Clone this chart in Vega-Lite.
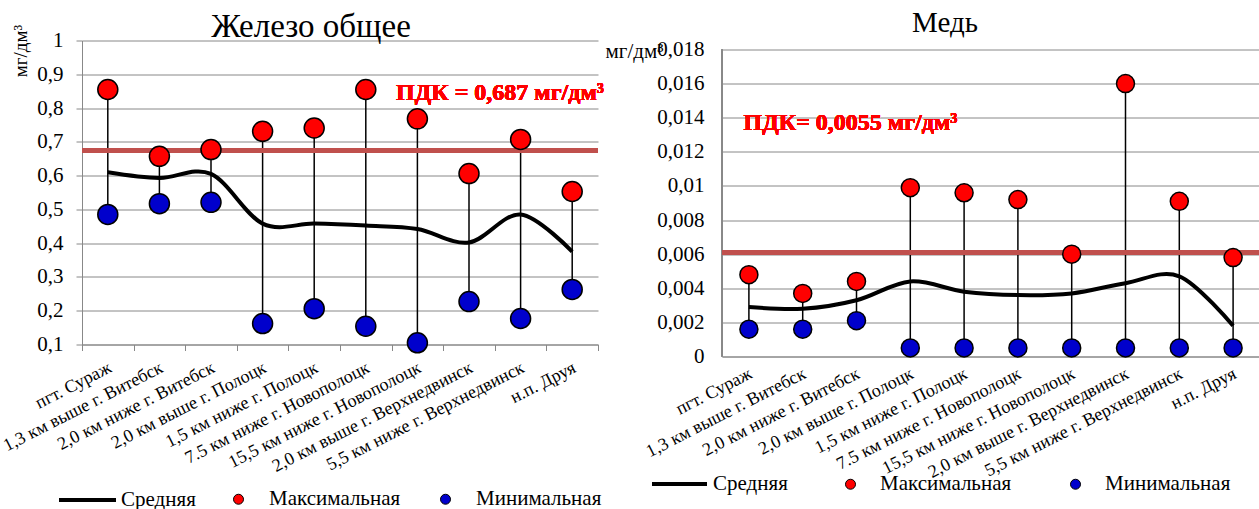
{
  "$schema": "https://vega.github.io/schema/vega-lite/v6.json",
  "background": "white",
  "padding": {"left": 0, "top": 8.5, "right": 0, "bottom": 0},
  "config": {
    "font": "Liberation Serif",
    "locale": {"number": {"decimal": ",", "thousands": " ", "grouping": [3], "currency": ["", ""]}},
    "view": {"stroke": null},
    "axis": {"labelFont": "Liberation Serif", "titleFont": "Liberation Serif", "labelColor": "black", "titleColor": "black", "domainColor": "#888888", "gridColor": "#888888", "tickColor": "#888888", "titleFontWeight": "normal", "labelOverlap": false},
    "legend": {"labelFont": "Liberation Serif", "labelColor": "black", "padding": 0}
  },
  "spacing": 1,
  "datasets": {
    "fe": [
      {"site": "пгт. Сураж", "mean": 0.61, "max": 0.855, "min": 0.485},
      {"site": "1,3 км выше г. Витебск", "mean": 0.593, "max": 0.657, "min": 0.517},
      {"site": "2,0 км ниже г. Витебск", "mean": 0.605, "max": 0.677, "min": 0.521},
      {"site": "2,0 км выше г. Полоцк", "mean": 0.458, "max": 0.731, "min": 0.162},
      {"site": "1,5 км ниже г. Полоцк", "mean": 0.458, "max": 0.741, "min": 0.206},
      {"site": "7.5 км ниже г. Новополоцк", "mean": 0.452, "max": 0.855, "min": 0.154},
      {"site": "15,5 км ниже г. Новополоцк", "mean": 0.442, "max": 0.768, "min": 0.105},
      {"site": "2,0 км выше г. Верхнедвинск", "mean": 0.402, "max": 0.606, "min": 0.227},
      {"site": "5,5 км ниже г. Верхнедвинск", "mean": 0.485, "max": 0.707, "min": 0.177},
      {"site": "н.п. Друя", "mean": 0.375, "max": 0.553, "min": 0.263}
    ],
    "cu": [
      {"site": "пгт. Сураж", "mean": 0.0029, "max": 0.0048, "min": 0.0016},
      {"site": "1,3 км выше г. Витебск", "mean": 0.0028, "max": 0.0037, "min": 0.0016},
      {"site": "2,0 км ниже г. Витебск", "mean": 0.0033, "max": 0.0044, "min": 0.0021},
      {"site": "2,0 км выше г. Полоцк", "mean": 0.0044, "max": 0.0099, "min": 0.0005},
      {"site": "1,5 км ниже г. Полоцк", "mean": 0.0038, "max": 0.0096, "min": 0.0005},
      {"site": "7.5 км ниже г. Новополоцк", "mean": 0.0036, "max": 0.0092, "min": 0.0005},
      {"site": "15,5 км ниже г. Новополоцк", "mean": 0.0037, "max": 0.006, "min": 0.0005},
      {"site": "2,0 км выше г. Верхнедвинск", "mean": 0.0043, "max": 0.016, "min": 0.0005},
      {"site": "5,5 км ниже г. Верхнедвинск", "mean": 0.0047, "max": 0.0091, "min": 0.0005},
      {"site": "н.п. Друя", "mean": 0.0018, "max": 0.0058, "min": 0.0005}
    ]
  },
  "hconcat": [
    {
      "width": 516,
      "height": 304,
      "title": {"text": "Железо общее", "fontSize": 33, "fontWeight": "normal", "font": "Liberation Serif", "color": "black", "dx": -29, "offset": -20, "frame": "group"},
      "data": {"name": "fe"},
      "layer": [
        {
          "mark": {"type": "rule", "color": "black", "strokeWidth": 1.5},
          "encoding": {
            "x": {"field": "site", "type": "nominal", "sort": null, "scale": {"paddingInner": 0, "paddingOuter": 0},
              "axis": {"title": null, "labelFont": "Liberation Serif", "labelAngle": -27, "labelAlign": "right", "labelBaseline": "middle", "labelPadding": 16, "labelOffset": 2, "labelFontSize": 18, "labelLimit": 400, "labelOverlap": false, "tickBand": "extent", "tickSize": 6, "grid": false}},
            "y": {"field": "min", "type": "quantitative", "scale": {"domain": [0.1, 1], "nice": false, "zero": false},
              "axis": {"values": [0.1, 0.2, 0.3, 0.4, 0.5, 0.6, 0.7, 0.8, 0.9, 1], "tickCount": 12, "format": "~g", "labelFont": "Liberation Serif", "labelFontSize": 21, "labelOverlap": false, "labelPadding": 13, "tickSize": 6, "grid": true,
                "title": "мг/дм³", "titleFont": "Liberation Serif", "titleFontSize": 19, "titleAngle": -90, "titleX": -62, "titleY": 10, "titleAlign": "center", "titleBaseline": "middle"}},
            "y2": {"field": "max"}
          }
        },
        {
          "mark": {"type": "rule", "color": "#C0504D", "strokeWidth": 5},
          "encoding": {"y": {"datum": 0.674, "type": "quantitative"}}
        },
        {
          "mark": {"type": "line", "interpolate": "cardinal", "strokeWidth": 4},
          "encoding": {
            "x": {"field": "site", "type": "nominal", "sort": null},
            "y": {"field": "mean", "type": "quantitative"},
            "stroke": {"datum": "Средняя", "type": "nominal", "scale": {"domain": ["Средняя"], "range": ["black"]},
              "legend": {"orient": "none", "legendX": -25, "legendY": 429, "title": null, "symbolType": "stroke", "symbolSize": 3249, "symbolStrokeWidth": 4, "labelFont": "Liberation Serif", "labelFontSize": 21, "labelOffset": 3}}
          }
        },
        {
          "mark": {"type": "point", "filled": true, "shape": "circle", "size": 400, "stroke": "black", "strokeWidth": 1.5, "opacity": 1},
          "encoding": {
            "x": {"field": "site", "type": "nominal", "sort": null},
            "y": {"field": "max", "type": "quantitative"},
            "fill": {"datum": "Максимальная", "type": "nominal", "scale": {"domain": ["Максимальная", "Минимальная"], "range": ["#FF0000", "#0000CC"]},
              "legend": {"orient": "none", "direction": "horizontal", "legendX": 146, "legendY": 448, "title": null, "symbolType": "circle", "symbolSize": 100, "symbolStrokeColor": "black", "symbolStrokeWidth": 1, "labelFont": "Liberation Serif", "labelFontSize": 21, "labelOffset": 20, "columnPadding": 34}}
          }
        },
        {
          "mark": {"type": "point", "filled": true, "shape": "circle", "size": 400, "stroke": "black", "strokeWidth": 1.5, "opacity": 1},
          "encoding": {
            "x": {"field": "site", "type": "nominal", "sort": null},
            "y": {"field": "min", "type": "quantitative"},
            "fill": {"datum": "Минимальная", "type": "nominal"}
          }
        },
        {
          "mark": {"type": "text", "text": "ПДК = 0,687 мг/дм³", "color": "#FF0000", "fontWeight": "bold", "fontSize": 24, "font": "Liberation Serif", "align": "center", "baseline": "alphabetic", "dx": 31},
          "encoding": {
            "x": {"datum": "2,0 км выше г. Верхнедвинск", "type": "nominal"},
            "y": {"datum": 0.825, "type": "quantitative"}
          }
        }
      ]
    },
    {
      "width": 538,
      "height": 316,
      "title": {"text": "Медь", "fontSize": 29, "fontWeight": "normal", "font": "Liberation Serif", "color": "black", "dx": -46, "offset": 1, "frame": "group"},
      "data": {"name": "cu"},
      "layer": [
        {
          "mark": {"type": "rule", "color": "black", "strokeWidth": 1.5},
          "encoding": {
            "x": {"field": "site", "type": "nominal", "sort": null, "scale": {"paddingInner": 0, "paddingOuter": 0},
              "axis": {"title": null, "labelFont": "Liberation Serif", "labelAngle": -27, "labelAlign": "right", "labelBaseline": "middle", "labelPadding": 16, "labelOffset": 2, "labelFontSize": 18, "labelLimit": 400, "labelOverlap": false, "ticks": false, "grid": false}},
            "y": {"field": "min", "type": "quantitative", "scale": {"domain": [0, 0.018528], "nice": false},
              "axis": {"values": [0, 0.002, 0.004, 0.006, 0.008, 0.01, 0.012, 0.014, 0.016, 0.018], "tickCount": 12, "format": "~g", "labelFont": "Liberation Serif", "labelFontSize": 21, "labelOverlap": false, "labelPadding": 18, "ticks": false, "grid": true, "domain": false,
                "title": "мг/дм³", "titleFont": "Liberation Serif", "titleFontSize": 21, "titleAngle": 0, "titleX": -117, "titleY": 17, "titleAlign": "left", "titleBaseline": "alphabetic"}},
            "y2": {"field": "max"}
          }
        },
        {
          "mark": {"type": "rule", "color": "#888888", "strokeWidth": 1},
          "encoding": {
            "x": {"datum": "пгт. Сураж", "type": "nominal", "bandPosition": 0},
            "y": {"datum": 0, "type": "quantitative"},
            "y2": {"datum": 0.018}
          }
        },
        {
          "mark": {"type": "rule", "color": "#C0504D", "strokeWidth": 5},
          "encoding": {"y": {"datum": 0.0061, "type": "quantitative"}}
        },
        {
          "mark": {"type": "line", "interpolate": "cardinal", "strokeWidth": 4},
          "encoding": {
            "x": {"field": "site", "type": "nominal", "sort": null},
            "y": {"field": "mean", "type": "quantitative"},
            "stroke": {"datum": "Средняя", "type": "nominal", "scale": {"domain": ["Средняя"], "range": ["black"]},
              "legend": {"orient": "none", "legendX": -72, "legendY": 414, "title": null, "symbolType": "stroke", "symbolSize": 3025, "symbolStrokeWidth": 4, "labelFont": "Liberation Serif", "labelFontSize": 21, "labelOffset": 4}}
          }
        },
        {
          "mark": {"type": "point", "filled": true, "shape": "circle", "size": 324, "stroke": "black", "strokeWidth": 1.5, "opacity": 1},
          "encoding": {
            "x": {"field": "site", "type": "nominal", "sort": null},
            "y": {"field": "max", "type": "quantitative"},
            "fill": {"datum": "Максимальная", "type": "nominal", "scale": {"domain": ["Максимальная", "Минимальная"], "range": ["#FF0000", "#0000CC"]},
              "legend": {"orient": "none", "direction": "horizontal", "legendX": 118, "legendY": 433, "title": null, "symbolType": "circle", "symbolSize": 100, "symbolStrokeColor": "black", "symbolStrokeWidth": 1, "labelFont": "Liberation Serif", "labelFontSize": 21, "labelOffset": 19, "columnPadding": 53}}
          }
        },
        {
          "mark": {"type": "point", "filled": true, "shape": "circle", "size": 324, "stroke": "black", "strokeWidth": 1.5, "opacity": 1},
          "encoding": {
            "x": {"field": "site", "type": "nominal", "sort": null},
            "y": {"field": "min", "type": "quantitative"},
            "fill": {"datum": "Минимальная", "type": "nominal"}
          }
        },
        {
          "mark": {"type": "text", "text": "ПДК= 0,0055 мг/дм³", "color": "#FF0000", "fontWeight": "bold", "fontSize": 24, "font": "Liberation Serif", "align": "center", "baseline": "alphabetic", "dx": -6},
          "encoding": {
            "x": {"datum": "2,0 км ниже г. Витебск", "type": "nominal"},
            "y": {"datum": 0.0133, "type": "quantitative"}
          }
        }
      ]
    }
  ],
  "resolve": {
    "scale": {"stroke": "independent", "fill": "independent", "x": "independent", "y": "independent"},
    "legend": {"stroke": "independent", "fill": "independent"}
  }
}
